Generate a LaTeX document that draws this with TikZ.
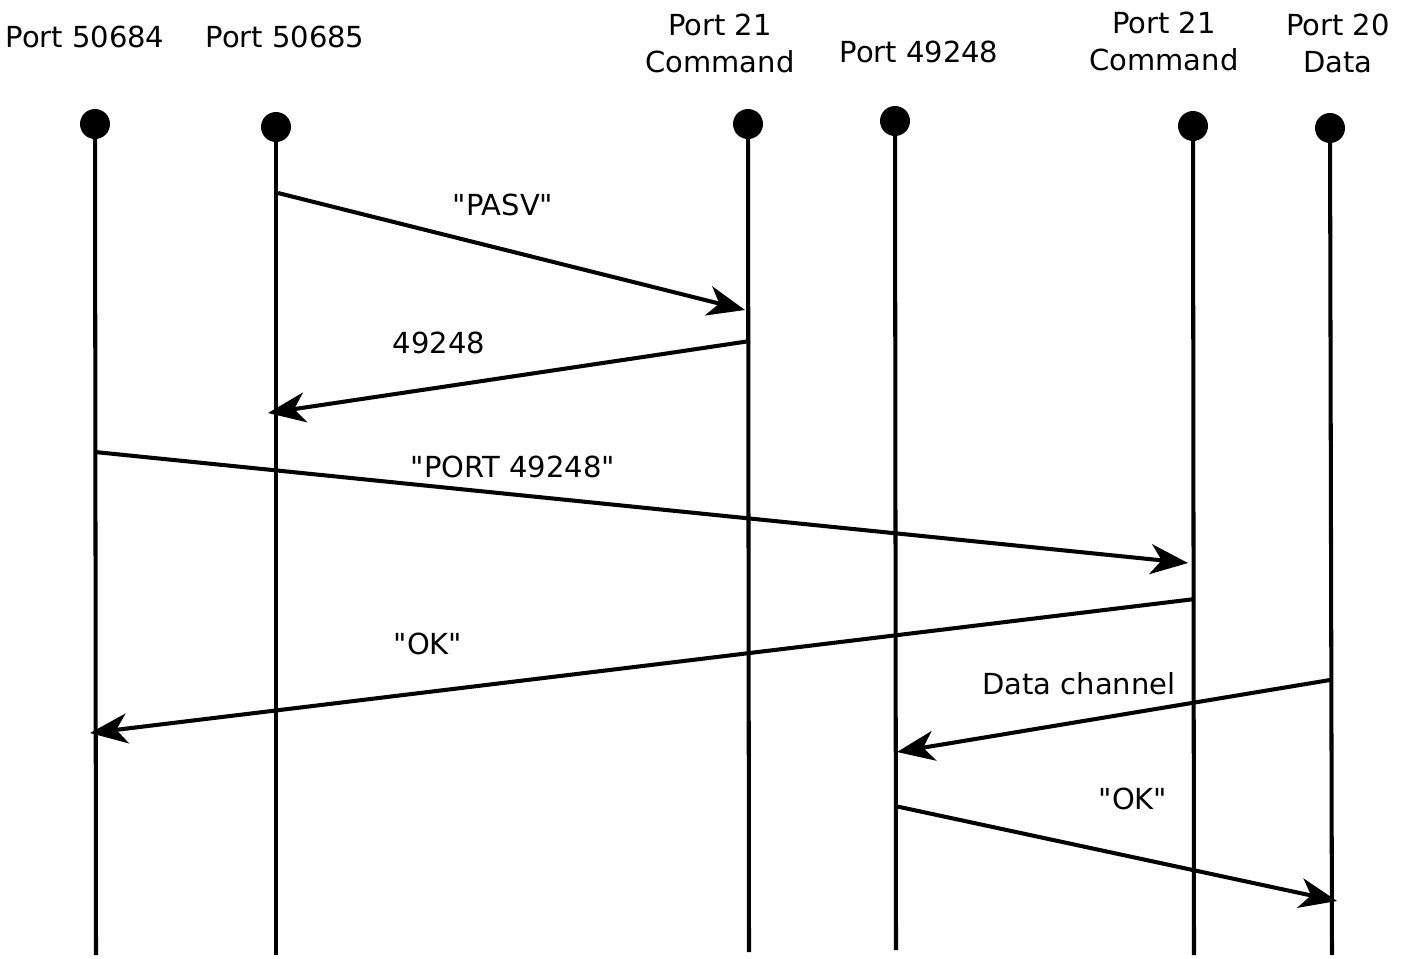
\documentclass[tikz,border=0pt]{standalone}
\usepackage{fontspec}
\setmainfont{DejaVu Sans}[Ligatures=TeXOff]
\usetikzlibrary{arrows.meta}

\begin{document}
\begin{tikzpicture}[
  x=0.02cm, y=-0.02cm,
  life/.style={line width=2.3pt},
  dot/.style={circle, fill=black, inner sep=0pt, minimum width=0.56cm, minimum height=0.6cm},
  msg/.style={-{Stealth[length=7.5mm, width=6mm, inset=2.2mm]}, line width=2.3pt},
  lab/.style={font=\fontsize{16.5}{20.5}\selectfont, align=center, anchor=base, inner sep=0pt}
]
  \useasboundingbox (0,0) rectangle (1410,958);

  % --- port names (two-line ones sit on their last line) ------------------
  \node[lab] (n1) at (85,47)   {Port 50684};
  \node[lab] (n2) at (285,47)  {Port 50685};
  \node[lab] (n3) at (720,72)  {Port 21\\Command};
  \node[lab] (n4) at (919,62)  {Port 49248};
  \node[lab] (n5) at (1164,70) {Port 21\\Command};
  \node[lab] (n6) at (1338,72) {Port 20\\Data};

  % --- lifelines ----------------------------------------------------------
  \node[dot] (l1) at (95,124)   {};
  \node[dot] (l2) at (276,127)  {};
  \node[dot] (l3) at (748,124)  {};
  \node[dot] (l4) at (895,121)  {};
  \node[dot] (l5) at (1193,126) {};
  \node[dot] (l6) at (1330,128) {};
  \coordinate (e1) at (96,955);
  \coordinate (e2) at (276,955);
  \coordinate (e3) at (749,952);
  \coordinate (e4) at (896,950);
  \coordinate (e5) at (1194,955);
  \coordinate (e6) at (1332,955);
  \draw[life] (l1.center) -- (e1);
  \draw[life] (l2.center) -- (e2);
  \draw[life] (l3.center) -- (e3);
  \draw[life] (l4.center) -- (e4);
  \draw[life] (l5.center) -- (e5);
  \draw[life] (l6.center) -- (e6);

  % --- message end points -------------------------------------------------
  \coordinate (pasvA) at (278,193);   \coordinate (pasvB) at (745,310);
  \coordinate (replyA) at (750,341);  \coordinate (replyB) at (268,413);
  \coordinate (portA) at (95,452);    \coordinate (portB) at (1188,563);
  \coordinate (okA) at (1195,599);    \coordinate (okB) at (90,733);
  \coordinate (dataA) at (1330,680);  \coordinate (dataB) at (897,752);
  \coordinate (ackA) at (895,806);    \coordinate (ackB) at (1337,901);

  % --- messages -----------------------------------------------------------
  \draw[msg] (pasvA) -- (pasvB);
  \node[lab] (m1) at (503,215) {"PASV"};
  \draw[msg] (replyA) -- (replyB);
  \node[lab] (m2) at (439,353) {49248};
  \draw[msg] (portA) -- (portB);
  \node[lab] (m3) at (513,477) {"PORT 49248"};
  \draw[msg] (okA) -- (okB);
  \node[lab] (m4) at (428,654) {"OK"};
  \draw[msg] (dataA) -- (dataB);
  \node[lab] (m5) at (1079,694) {Data channel};
  \draw[msg] (ackA) -- (ackB);
  \node[lab] (m6) at (1133,809) {"OK"};
\end{tikzpicture}
\end{document}
